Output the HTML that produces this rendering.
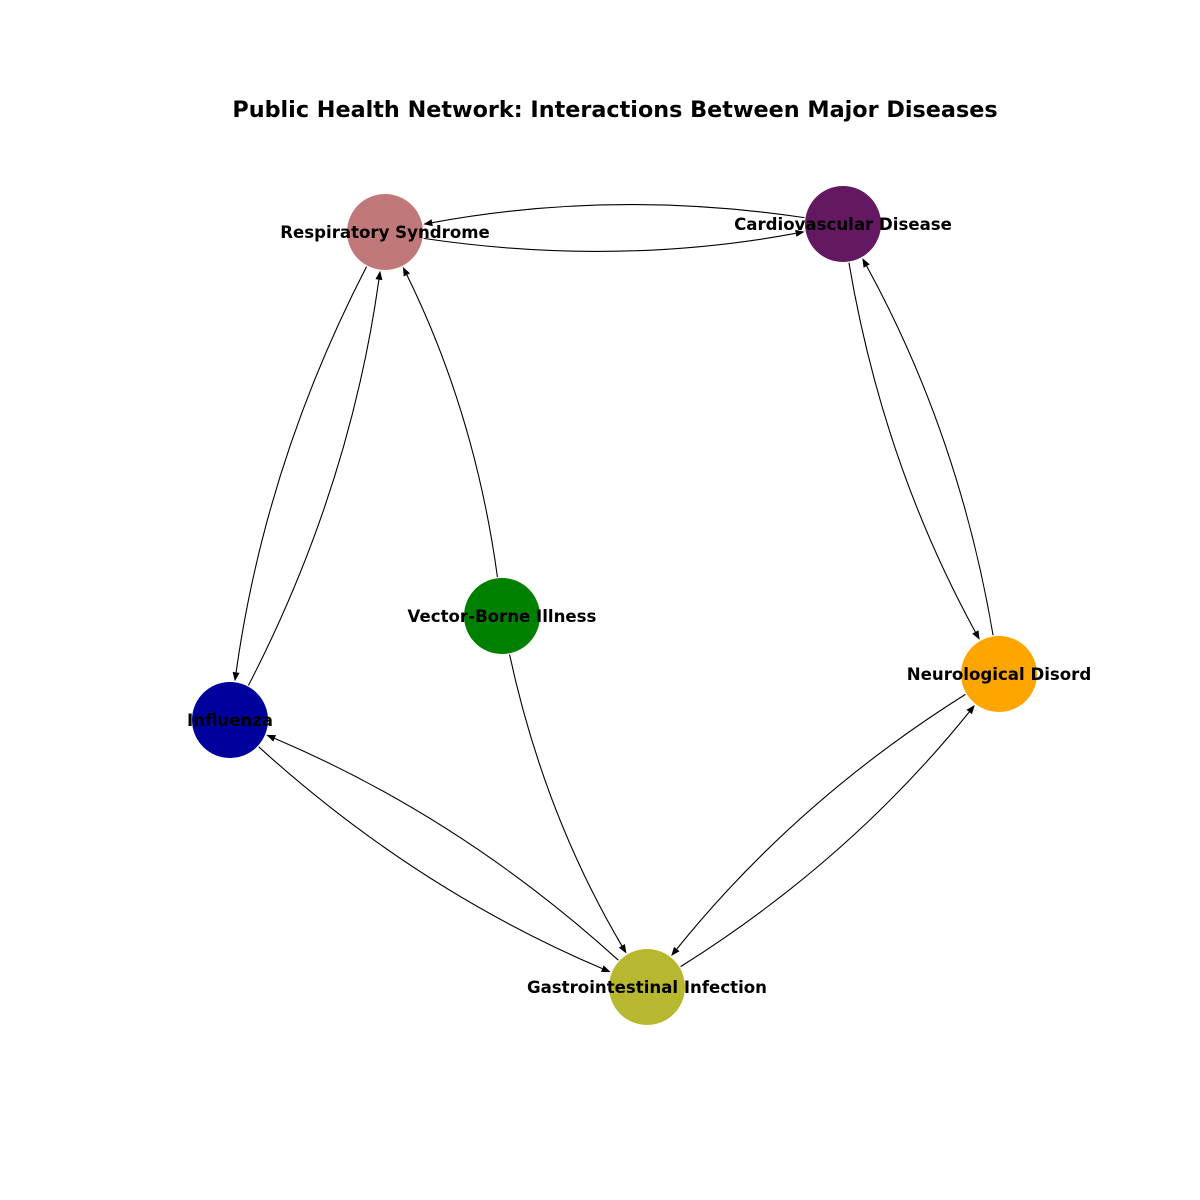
<!DOCTYPE html>
<html><head><meta charset="utf-8"><style>
html,body{margin:0;padding:0;background:#fff;}
svg{display:block;}
text{font-family:"DejaVu Sans","Liberation Sans",sans-serif;font-weight:bold;}
</style></head><body>
<svg id="chart" width="1200" height="1200" viewBox="0 0 1200 1200">
<rect width="1200" height="1200" fill="#fff"/>
<text x="615" y="117" font-size="22.3" text-anchor="middle">Public Health Network: Interactions Between Major Diseases</text>
<g id="edges"></g>
<g id="nodes"></g>
</svg>
<script>
const nodeNames = ["Respiratory Syndrome","Cardiovascular Disease","Vector-Borne Illness","Influenza","Neurological Disord","Gastrointestinal Infection"];
const nodeX = [385, 843, 502, 230, 999, 647];
const nodeY = [232, 224, 616, 720, 674, 987];
const nodeColors = ["#c07878","#641862","#008000","#00009c","#ffa500","#b8b830"];
const edgeSource = [1, 0, 0, 3, 2, 2, 1, 4, 4, 5, 3, 5];
const edgeTarget = [0, 1, 3, 0, 0, 5, 4, 1, 5, 4, 5, 3];

const R = 38, RAD = 0.1, NS = "http://www.w3.org/2000/svg";
const eg = document.getElementById('edges'), ng = document.getElementById('nodes');
function q(p0,c,p1,t){const u=1-t;return [u*u*p0[0]+2*u*t*c[0]+t*t*p1[0], u*u*p0[1]+2*u*t*c[1]+t*t*p1[1]];}
function sub(p0,c,p1,a,b){
  const s=q(p0,c,p1,a), e=q(p0,c,p1,b);
  const d=(P,C,Q,t)=>[2*(1-t)*(C[0]-P[0])+2*t*(Q[0]-C[0]),2*(1-t)*(C[1]-P[1])+2*t*(Q[1]-C[1])];
  const da=d(p0,c,p1,a), h=(b-a)/2;
  return [s,[s[0]+da[0]*h,s[1]+da[1]*h],e];
}
for(let i=0;i<edgeSource.length;i++){
  const s=edgeSource[i], t=edgeTarget[i];
  const p0=[nodeX[s],nodeY[s]], p1=[nodeX[t],nodeY[t]];
  const mx=(p0[0]+p1[0])/2, my=(p0[1]+p1[1])/2;
  const c=[mx-RAD*(p1[1]-p0[1]), my+RAD*(p1[0]-p0[0])];
  let ta=0, tb=1;
  while(Math.hypot(q(p0,c,p1,ta)[0]-p0[0],q(p0,c,p1,ta)[1]-p0[1])<R+1) ta+=0.001;
  while(Math.hypot(q(p0,c,p1,tb)[0]-p1[0],q(p0,c,p1,tb)[1]-p1[1])<R+1) tb-=0.001;
  const [a,cc,b]=sub(p0,c,p1,ta,tb);
  const ang=Math.atan2(b[1]-cc[1],b[0]-cc[0]);
  const L=9, W=3.5;
  const bx=b[0]-L*Math.cos(ang), by=b[1]-L*Math.sin(ang);
  const path=document.createElementNS(NS,'path');
  path.setAttribute('d',`M${a[0]},${a[1]} Q${cc[0]},${cc[1]} ${bx},${by}`);
  path.setAttribute('fill','none');path.setAttribute('stroke','#000');path.setAttribute('stroke-width','1.1');
  
  
  eg.appendChild(path);
  const head=document.createElementNS(NS,'polygon');
  const px=-Math.sin(ang), py=Math.cos(ang);
  head.setAttribute('points',`${b[0]},${b[1]} ${bx+W*px},${by+W*py} ${bx-W*px},${by-W*py}`);
  head.setAttribute('fill','#000');
  
  
  eg.appendChild(head);
}
for(let i=0;i<nodeNames.length;i++){
  const c=document.createElementNS(NS,'circle');
  c.setAttribute('cx',nodeX[i]);c.setAttribute('cy',nodeY[i]);c.setAttribute('r',R);c.setAttribute('fill',nodeColors[i]);
  
  
  ng.appendChild(c);
}
for(let i=0;i<nodeNames.length;i++){
  const tx=document.createElementNS(NS,'text');
  tx.setAttribute('x',nodeX[i]);tx.setAttribute('y',nodeY[i]+6);tx.setAttribute('text-anchor','middle');tx.setAttribute('font-size','16.6');
  tx.textContent=nodeNames[i];
  
  
  ng.appendChild(tx);
}
</script>
</body></html>
